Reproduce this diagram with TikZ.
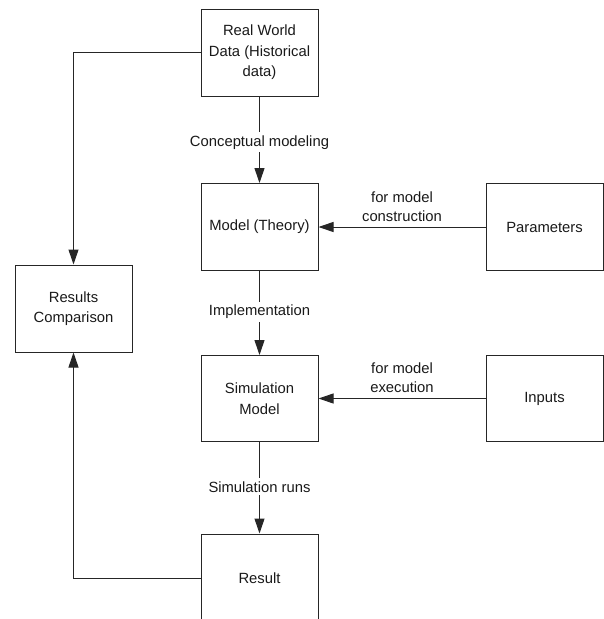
\documentclass[tikz,border=0pt]{standalone}
\usepackage{fontspec}
\setmainfont{Liberation Sans}
\usetikzlibrary{arrows.meta}
\begin{document}
\begin{tikzpicture}[x=1pt,y=-1pt,
  box/.style={draw=black!85,line width=1pt,minimum width=117pt,minimum height=87pt,
    align=center,inner sep=2pt,font=\fontsize{14.8}{20.5}\selectfont,text=black!90},
  arr/.style={draw=black!85,line width=1pt,-{Triangle[length=15pt,width=10pt]}},
  lbl/.style={fill=white,inner sep=3pt,align=center,font=\fontsize{14.8}{19}\selectfont,text=black!90},
  sidelbl/.style={inner sep=2pt,align=center,font=\fontsize{14.8}{19}\selectfont,text=black!90}]
\useasboundingbox (0,0) rectangle (604,619);
\clip (0,0) rectangle (604,619);

% main chain of boxes
\node[box] (rw)     at (259.5,52.5)  {Real World\\Data (Historical\\data)};
\node[box] (model)  at (259.5,227)   {Model (Theory)};
\node[box,minimum height=86pt] (sim) at (259.5,398.5) {Simulation\\Model};
\node[box,minimum height=88pt] (res) at (259.5,578) {Result};

% side boxes
\node[box] (params) at (544.5,227)   {Parameters};
\node[box,minimum height=86pt] (inputs) at (544.5,398.5) {Inputs};
\node[box] (cmp)    at (73.5,308.5)  {Results\\Comparison};

% vertical flow
\draw[arr] (rw) -- node[lbl,pos=0.53] {Conceptual modeling} (model);
\draw[arr] (model) -- node[lbl,pos=0.49] {Implementation} (sim);
\draw[arr] (sim) -- node[lbl,pos=0.49] {Simulation runs} (res);

% inputs from the right
\draw[arr] (params) -- node[sidelbl,above=3pt] {for model\\construction} (model);
\draw[arr] (inputs) -- node[sidelbl,above=3pt] {for model\\execution} (sim);

% comparison loop on the left
\draw[arr] (rw.west) -| (cmp.north);
\draw[arr] (res.west) -| (cmp.south);
\end{tikzpicture}
\end{document}
